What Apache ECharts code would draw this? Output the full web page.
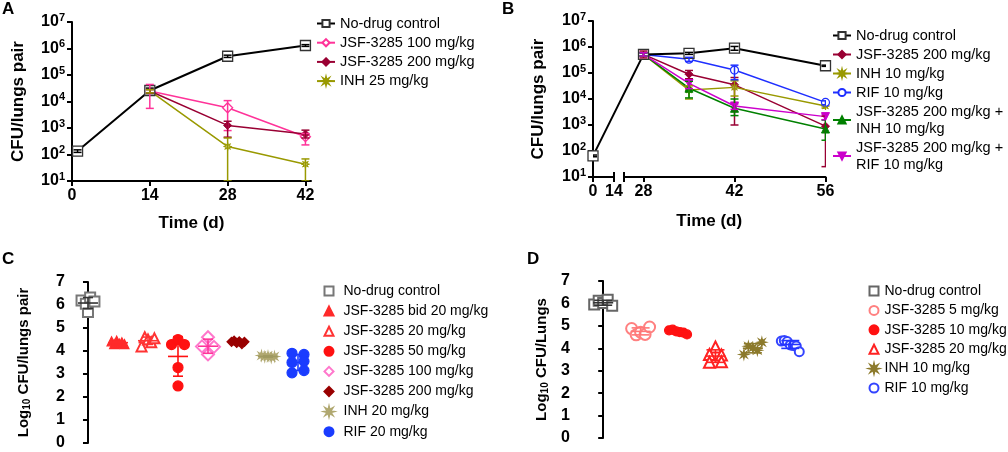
<!DOCTYPE html>
<html><head><meta charset="utf-8">
<script src="https://cdn.jsdelivr.net/npm/echarts@6/dist/echarts.min.js"></script>
<style>html,body{margin:0;padding:0;background:#fff}#c{width:1008px;height:452px}</style>
</head><body><div id="c"></div>
<script>
// ================= DATA =================
// Panel A (CFU/lungs pair, log scale)
const A_X_TICKS = [0, 14, 28, 42];
const A_CTRL_DAYS = [1, 14, 28, 42];
const A_TRT_DAYS = [14, 28, 42];
const A_CTRL    = [135, 26000, 510000, 1300000];
const A_CTRL_HI = [150, 32000, 560000, 1400000];
const A_CTRL_LO = [120, 20000, 460000, 1200000];
const A_J100    = [25000, 5800, 470];
const A_J100_HI = [44000, 10800, 620];
const A_J100_LO = [5500, 800, 230];
const A_J200    = [25000, 1250, 590];
const A_J200_HI = [28000, 1800, 830];
const A_J200_LO = [21000, 450, 420];
const A_INH     = [25000, 200, 43];
const A_INH_HI  = [28000, 420, 68];
const A_INH_LO  = [21000, 10, 10];

// Panel B (broken time axis)
const B_X_TICKS_LEFT = [0, 14];
const B_X_TICKS_RIGHT = [28, 42, 56];
const B_CTRL_DAYS = [0, 28, 35, 42, 56];
const B_TRT_DAYS = [28, 35, 42, 56];
const B_CTRL    = [65, 520000, 570000, 900000, 190000];
const B_CTRL_HI = [70, 600000, 620000, 1050000, 200000];
const B_CTRL_LO = [60, 450000, 520000, 750000, 180000];
const B_J200    = [520000, 90000, 35000, 900];
const B_J200_HI = [700000, 125000, 67000, 2200];
const B_J200_LO = [380000, 60000, 1000, 25];
const B_INH     = [520000, 22000, 28000, 5400];
const B_INH_HI  = [600000, 32000, 50000, 6000];
const B_INH_LO  = [450000, 10000, 13000, 4500];
const B_RIF     = [520000, 340000, 130000, 7400];
const B_RIF_HI  = [600000, 400000, 200000, 8500];
const B_RIF_LO  = [450000, 280000, 55000, 6000];
const B_JI      = [520000, 26000, 4400, 700];
const B_JI_HI   = [600000, 48000, 10000, 1550];
const B_JI_LO   = [450000, 11000, 2300, 260];
const B_JR      = [520000, 40000, 5400, 2100];
const B_JR_HI   = [600000, 55000, 6500, 2600];
const B_JR_LO   = [450000, 25000, 4000, 1600];

// Panel C (log10 CFU/lungs pair, individual mice)
const C_CTRL  = [6.2, 5.7, 6.05, 6.33, 6.15];
const C_BID20 = [4.42, 4.3, 4.45, 4.32, 4.38, 4.3];
const C_J20   = [4.2, 4.6, 4.5, 4.38, 4.55];
const C_J50   = [4.28, 4.5, 4.28, 3.28, 2.48];
const C_J100  = [4.2, 4.6, 4.18, 3.85];
const C_J200  = [4.4, 4.45, 4.35, 4.42, 4.3, 4.4];
const C_INH20 = [3.8, 3.75, 3.78, 3.72, 3.76];
const C_RIF20 = [3.9, 3.85, 3.5, 3.55, 3.05, 3.15];

// Panel D (log10 CFU/Lungs)
const D_CTRL  = [5.95, 6.12, 6.02, 6.16, 5.9];
const D_J5    = [4.88, 4.6, 4.72, 4.62, 4.95];
const D_J10   = [4.8, 4.83, 4.75, 4.72, 4.7, 4.62];
const D_J20   = [4.06, 3.72, 3.7, 3.38, 3.4];
const D_INH10 = [3.72, 4.09, 4.02, 3.91, 4.27];
const D_RIF10 = [4.32, 4.35, 4.3, 4.15, 4.12, 4.1, 3.85];

// ================= HELPERS =================
const FONT = '"Liberation Sans", Arial, Helvetica, sans-serif';
function starPath(n, r1, r2) {
  let d = '';
  for (let k = 0; k < 2 * n; k++) {
    const r = k % 2 ? r2 : r1, a = Math.PI * k / n - Math.PI / 2;
    d += (k ? 'L' : 'M') + (r * Math.cos(a)).toFixed(2) + ',' + (r * Math.sin(a)).toFixed(2);
  }
  return 'path://' + d + 'Z';
}
const STAR = starPath(8, 10, 4);

// broken axis scale for panel B: [0,14] compressed, gap, then [25,56]
function bx(d) { return d <= 14 ? d * 1.5 : 31 + (d - 25) * 6.5; }
const BX_MAX = bx(56);

const mean = a => a.reduce((s, v) => s + v, 0) / a.length;
const sd = a => { const m = mean(a); return Math.sqrt(a.reduce((s, v) => s + (v - m) * (v - m), 0) / (a.length - 1)); };

// scatter-dot layout: rows of near-equal values spread symmetrically
function swarm(vals, thr, stepMax, widthMax) {
  const idx = vals.map((v, i) => i).sort((a, b) => vals[a] - vals[b]);
  const rows = []; let cur = [idx[0]];
  for (let k = 1; k < idx.length; k++) {
    if (vals[idx[k]] - vals[idx[k - 1]] < thr) cur.push(idx[k]); else { rows.push(cur); cur = [idx[k]]; }
  }
  rows.push(cur);
  const off = new Array(vals.length).fill(0);
  rows.forEach(r => {
    r.sort((a, b) => a - b);
    const n = r.length;
    const step = n > 1 ? Math.min(stepMax, widthMax / (n - 1)) : 0;
    r.forEach((i, j) => { off[i] = (j - (n - 1) / 2) * step; });
  });
  return off;
}

function lineSeries(name, xs, ys, color, symbol, size, xi, yi, opt) {
  opt = opt || {};
  return {
    type: 'line', name, xAxisIndex: xi, yAxisIndex: yi,
    data: xs.map((x, i) => [x, ys[i]]),
    symbol, symbolSize: size, symbolRotate: opt.rotate || 0, showAllSymbol: true,
    lineStyle: {color: opt.lineColor || color, width: opt.lw || 1.5},
    itemStyle: {color: opt.fill || color, borderColor: opt.border || color, borderWidth: opt.bw || 1},
    z: opt.z || 3, animation: false
  };
}
function errSeries(xs, hi, lo, color, xi, yi, cap) {
  return {
    type: 'custom', xAxisIndex: xi, yAxisIndex: yi, clip: true, z: 5, silent: true, animation: false,
    itemStyle: {color},
    data: xs.map((x, i) => [x, lo[i], hi[i]]),
    renderItem: (p, api) => {
      const x = api.value(0);
      const a = api.coord([x, api.value(2)]), b = api.coord([x, api.value(1)]);
      const st = {stroke: color, lineWidth: 1.5};
      return {type: 'group', children: [
        {type: 'line', shape: {x1: a[0], y1: a[1], x2: b[0], y2: b[1]}, style: st},
        {type: 'line', shape: {x1: a[0] - cap, y1: a[1], x2: a[0] + cap, y2: a[1]}, style: st},
        {type: 'line', shape: {x1: b[0] - cap, y1: b[1], x2: b[0] + cap, y2: b[1]}, style: st}
      ]};
    }
  };
}
function statSeries(groups, colors, xi, yi, mh, ch) {
  return {
    type: 'custom', xAxisIndex: xi, yAxisIndex: yi, z: 10, silent: true, animation: false,
    data: groups.map((g, i) => [i, mean(g), sd(g)]),
    renderItem: (p, api) => {
      const i = api.value(0), m = api.value(1), s = api.value(2);
      const c = colors[p.dataIndex];
      const pm = api.coord([i, m]), pt = api.coord([i, m + s]), pb = api.coord([i, m - s]);
      const st = {stroke: c, lineWidth: 1.6};
      return {type: 'group', children: [
        {type: 'line', z2: 50, shape: {x1: pm[0] - mh, y1: pm[1], x2: pm[0] + mh, y2: pm[1]}, style: st},
        {type: 'line', z2: 50, shape: {x1: pt[0], y1: pt[1], x2: pb[0], y2: pb[1]}, style: st},
        {type: 'line', z2: 50, shape: {x1: pt[0] - ch, y1: pt[1], x2: pt[0] + ch, y2: pt[1]}, style: st},
        {type: 'line', z2: 50, shape: {x1: pb[0] - ch, y1: pb[1], x2: pb[0] + ch, y2: pb[1]}, style: st}
      ]};
    }
  };
}
function dotSeries(name, vals, gi, color, symbol, size, xi, yi, lay, opt) {
  opt = opt || {};
  const off = swarm(vals, lay[0], lay[1], lay[2]);
  return {
    type: 'scatter', name, xAxisIndex: xi, yAxisIndex: yi,
    data: vals.map((v, j) => [gi + off[j], v]),
    symbol, symbolSize: size,
    itemStyle: {color, borderColor: color, borderWidth: opt.bw || 1.2, opacity: 1},
    z: 2, animation: false
  };
}

// ================= AXES =================
const AX_LINE = {show: true, lineStyle: {color: '#000', width: 2}};
const TICK = {show: true, length: 5, lineStyle: {color: '#000', width: 2}};
const LBL = {color: '#000', fontFamily: FONT, fontSize: 16, fontWeight: 'bold'};
const NAME = {color: '#000', fontFamily: FONT, fontSize: 17, fontWeight: 'bold'};
const logLabel = {
  formatter: v => '{b|10}{s|' + Math.round(Math.log10(v)) + '}',
  margin: 7,
  rich: {
    b: {fontFamily: FONT, fontSize: 16, fontWeight: 'bold', color: '#000'},
    s: {fontFamily: FONT, fontSize: 11, fontWeight: 'bold', color: '#000', padding: [0, 0, 9, 0]}
  }
};
function logY(grid, gap) {
  return {type: 'log', logBase: 10, gridIndex: grid, min: 10, max: 1e7,
    axisLine: AX_LINE, axisTick: TICK, splitLine: {show: false}, axisLabel: logLabel,
    name: 'CFU/lungs pair', nameLocation: 'middle', nameRotate: 90, nameGap: gap, nameTextStyle: NAME};
}
function linY(grid, gap, name) {
  return {type: 'value', gridIndex: grid, min: 0, max: 7, interval: 1,
    axisLine: AX_LINE, axisTick: TICK, splitLine: {show: false},
    axisLabel: Object.assign({margin: 7}, LBL),
    name, nameLocation: 'middle', nameRotate: 90, nameGap: gap,
    nameTextStyle: {rich: {
      n: {fontFamily: FONT, fontSize: 15, fontWeight: 'bold', color: '#000'},
      s: {fontFamily: FONT, fontSize: 10, fontWeight: 'bold', color: '#000', padding: [7, 0, 0, 0]}
    }}};
}

const grids = [
  {left: 72, top: 22, width: 239, height: 159},        // 0 A
  {left: 593, top: 21, width: BX_MAX, height: 156},    // 1 B data
  {left: 593, top: 21, width: 21, height: 156},        // 2 B axis left segment
  {left: 624, top: 21, width: 201.5, height: 156},     // 3 B axis right segment
  {left: 72, top: 282, width: 241, height: 161},       // 4 C
  {left: 577, top: 281, width: 232, height: 157}       // 5 D
];

const xAxes = [
  {type: 'value', gridIndex: 0, min: 0, max: 43, axisLine: AX_LINE,
    axisTick: Object.assign({customValues: A_X_TICKS}, TICK),
    axisLabel: Object.assign({customValues: A_X_TICKS, margin: 7}, LBL), splitLine: {show: false},
    name: 'Time (d)', nameLocation: 'middle', nameGap: 34, nameTextStyle: NAME},
  {type: 'value', gridIndex: 1, min: 0, max: BX_MAX, axisLine: {show: false}, axisTick: {show: false},
    axisLabel: {show: false}, splitLine: {show: false},
    name: 'Time (d)', nameLocation: 'middle', nameGap: 36, nameTextStyle: NAME},
  {type: 'value', gridIndex: 2, min: 0, max: 14, position: 'bottom', axisLine: AX_LINE,
    axisTick: Object.assign({customValues: B_X_TICKS_LEFT}, TICK),
    axisLabel: Object.assign({customValues: B_X_TICKS_LEFT, margin: 7}, LBL), splitLine: {show: false}},
  {type: 'value', gridIndex: 2, min: 0, max: 14, position: 'bottom', axisLine: {show: false},
    axisTick: {show: true, inside: true, length: 5, customValues: [14], lineStyle: {color: '#000', width: 2}},
    axisLabel: {show: false}, splitLine: {show: false}},
  {type: 'value', gridIndex: 3, min: 25, max: 56, position: 'bottom', axisLine: AX_LINE,
    axisTick: Object.assign({customValues: [25].concat(B_X_TICKS_RIGHT)}, TICK),
    axisLabel: Object.assign({customValues: B_X_TICKS_RIGHT, margin: 7}, LBL), splitLine: {show: false}},
  {type: 'value', gridIndex: 3, min: 25, max: 56, position: 'bottom', axisLine: {show: false},
    axisTick: {show: true, inside: true, length: 5, customValues: [25], lineStyle: {color: '#000', width: 2}},
    axisLabel: {show: false}, splitLine: {show: false}},
  {type: 'value', gridIndex: 4, min: -0.533, max: 7.5, show: false},
  {type: 'value', gridIndex: 5, min: -0.7, max: 5.5, show: false}
];
const yAxes = [
  logY(0, 45),
  logY(1, 46),
  {type: 'value', gridIndex: 2, min: 0, max: 1, show: false},
  {type: 'value', gridIndex: 3, min: 0, max: 1, show: false},
  linY(4, 40, '{n|Log}{s|10}{n| CFU/lungs pair}'),
  linY(5, 27, '{n|Log}{s|10}{n| CFU/Lungs}')
];

// ================= SERIES =================
const S = [];
// A
S.push(lineSeries('A|No-drug control', A_CTRL_DAYS, A_CTRL, '#000', 'rect', 10, 0, 0, {fill: '#fff', border: '#333', bw: 1.3, lw: 2, z: 4}));
S.push(lineSeries('A|JSF-3285 100 mg/kg', A_TRT_DAYS, A_J100, '#ff3399', 'diamond', 10, 0, 0, {fill: '#fff', bw: 1.3}));
S.push(lineSeries('A|JSF-3285 200 mg/kg', A_TRT_DAYS, A_J200, '#990033', 'diamond', 8, 0, 0));
S.push(lineSeries('A|INH 25 mg/kg', A_TRT_DAYS, A_INH, '#999900', STAR, 8, 0, 0, {fill: '#c8c870'}));
S.push(errSeries(A_CTRL_DAYS, A_CTRL_HI, A_CTRL_LO, '#000', 0, 0, 4));
S.push(errSeries(A_TRT_DAYS, A_J100_HI, A_J100_LO, '#ff3399', 0, 0, 4));
S.push(errSeries(A_TRT_DAYS, A_J200_HI, A_J200_LO, '#990033', 0, 0, 4));
S.push(errSeries(A_TRT_DAYS, A_INH_HI, A_INH_LO, '#999900', 0, 0, 4));
// B
const bCtrlX = B_CTRL_DAYS.map(bx), bTrtX = B_TRT_DAYS.map(bx);
S.push(lineSeries('B|No-drug control', bCtrlX, B_CTRL, '#000', 'rect', 10, 1, 1, {fill: '#fff', border: '#333', bw: 1.3, lw: 2, z: 4}));
S.push(lineSeries('B|JSF-3285 200 mg/kg', bTrtX, B_J200, '#990033', 'diamond', 8, 1, 1));
S.push(lineSeries('B|INH 10 mg/kg', bTrtX, B_INH, '#999900', STAR, 8, 1, 1, {fill: '#c8c870'}));
S.push(lineSeries('B|RIF 10 mg/kg', bTrtX, B_RIF, '#1f2fff', 'circle', 8, 1, 1, {fill: '#fff', bw: 1.2}));
S.push(lineSeries('B|JSF-3285 200 mg/kg +\nINH 10 mg/kg', bTrtX, B_JI, '#008000', 'triangle', 8, 1, 1));
S.push(lineSeries('B|JSF-3285 200 mg/kg +\nRIF 10 mg/kg', bTrtX, B_JR, '#cc00cc', 'triangle', 8, 1, 1, {rotate: 180}));
S.push(errSeries(bCtrlX, B_CTRL_HI, B_CTRL_LO, '#000', 1, 1, 4));
S.push(errSeries(bTrtX, B_J200_HI, B_J200_LO, '#990033', 1, 1, 4));
S.push(errSeries(bTrtX, B_INH_HI, B_INH_LO, '#999900', 1, 1, 4));
S.push(errSeries(bTrtX, B_RIF_HI, B_RIF_LO, '#1f2fff', 1, 1, 4));
S.push(errSeries(bTrtX, B_JI_HI, B_JI_LO, '#008000', 1, 1, 4));
S.push(errSeries(bTrtX, B_JR_HI, B_JR_LO, '#cc00cc', 1, 1, 4));
// axis-break gap through the plotted lines
S.push({type: 'scatter', xAxisIndex: 1, yAxisIndex: 1, data: [], z: 20, silent: true,
  markArea: {silent: true, itemStyle: {color: '#fff', opacity: 1},
    data: [[{xAxis: bx(14) + 1.5, yAxis: 10}, {xAxis: bx(25) - 1.5, yAxis: 1e7}]]}});
// C
const LAY_C = [0.25, 0.4, 0.43];
const cGroups = [C_CTRL, C_BID20, C_J20, C_J50, C_J100, C_J200, C_INH20, C_RIF20];
const cColors = ['#333333', '#ff2a2a', '#ff3333', '#ff1111', '#ff3399', '#990000', '#a09a60', '#1a3cff'];
S.push(dotSeries('C|No-drug control', C_CTRL, 0, '#777', 'emptyRect', 10, 6, 4, LAY_C));
S.push(dotSeries('C|JSF-3285 bid 20 mg/kg', C_BID20, 1, '#ff2a2a', 'triangle', 9, 6, 4, LAY_C));
S.push(dotSeries('C|JSF-3285 20 mg/kg', C_J20, 2, '#ff3333', 'emptyTriangle', 10, 6, 4, LAY_C));
S.push(dotSeries('C|JSF-3285 50 mg/kg', C_J50, 3, '#ff1111', 'circle', 10, 6, 4, LAY_C));
S.push(dotSeries('C|JSF-3285 100 mg/kg', C_J100, 4, '#ff77cc', 'emptyDiamond', 12, 6, 4, LAY_C));
S.push(dotSeries('C|JSF-3285 200 mg/kg', C_J200, 5, '#990000', 'diamond', 9, 6, 4, LAY_C));
S.push(dotSeries('C|INH 20 mg/kg', C_INH20, 6, '#b0a870', STAR, 9, 6, 4, LAY_C));
S.push(dotSeries('C|RIF 20 mg/kg', C_RIF20, 7, '#1a3cff', 'circle', 10, 6, 4, LAY_C));
S.push(statSeries(cGroups, cColors, 6, 4, 10, 5));
// D
const LAY_D = [0.25, 0.32, 0.48];
const dGroups = [D_CTRL, D_J5, D_J10, D_J20, D_INH10, D_RIF10];
const dColors = ['#333333', '#ff7777', '#ff1111', '#ff2222', '#8c7a2c', '#2233ff'];
S.push(dotSeries('D|No-drug control', D_CTRL, 0, '#666', 'emptyRect', 10, 7, 5, LAY_D));
S.push(dotSeries('D|JSF-3285 5 mg/kg', D_J5, 1, '#ff8080', 'emptyCircle', 11, 7, 5, LAY_D));
S.push(dotSeries('D|JSF-3285 10 mg/kg', D_J10, 2, '#ff1111', 'circle', 9, 7, 5, LAY_D));
S.push(dotSeries('D|JSF-3285 20 mg/kg', D_J20, 3, '#ff2222', 'emptyTriangle', 11, 7, 5, LAY_D));
S.push(dotSeries('D|INH 10 mg/kg', D_INH10, 4, '#8c7a2c', STAR, 9, 7, 5, LAY_D));
S.push(dotSeries('D|RIF 10 mg/kg', D_RIF10, 5, '#3344ff', 'emptyCircle', 9, 7, 5, LAY_D));
S.push(statSeries(dGroups, dColors, 7, 5, 10, 9));

// ================= LEGENDS =================
const strip = n => n.split('|')[1];
function legend(prefix, left, top, iw, ih, fs, lh, gap, tpad) {
  return {
    orient: 'vertical', left, top, padding: 0, itemGap: gap, itemWidth: iw, itemHeight: ih,
    selectedMode: false, formatter: strip,
    data: S.filter(s => s.name && s.name.startsWith(prefix + '|')).map(s => s.name),
    textStyle: {fontFamily: FONT, fontSize: fs, lineHeight: lh, color: '#000', padding: [0, 0, 0, tpad || 0]}
  };
}

const panelTitle = (t, left, top) => ({text: t, left, top, padding: 0,
  textStyle: {fontFamily: FONT, fontSize: 17, fontWeight: 'bold', color: '#000'}});

const chart = echarts.init(document.getElementById('c'), null, {renderer: 'canvas'});
chart.setOption({
  backgroundColor: '#fff',
  animation: false,
  title: [panelTitle('A', 2, 1), panelTitle('B', 502, 1), panelTitle('C', 2, 251), panelTitle('D', 527, 251)],
  legend: [
    legend('A', 316, 15, 18, 9, 14.5, 17, 2.2),
    legend('B', 832, 27, 18, 9, 14.5, 17, 2),
    legend('C', 323.5, 282.5, 9, 9, 14, 17, 3.1, 5),
    legend('D', 868.5, 282.5, 9, 9, 14, 17, 2.4, 1)
  ],
  grid: grids,
  xAxis: xAxes,
  yAxis: yAxes,
  series: S
});
</script>
</body></html>
